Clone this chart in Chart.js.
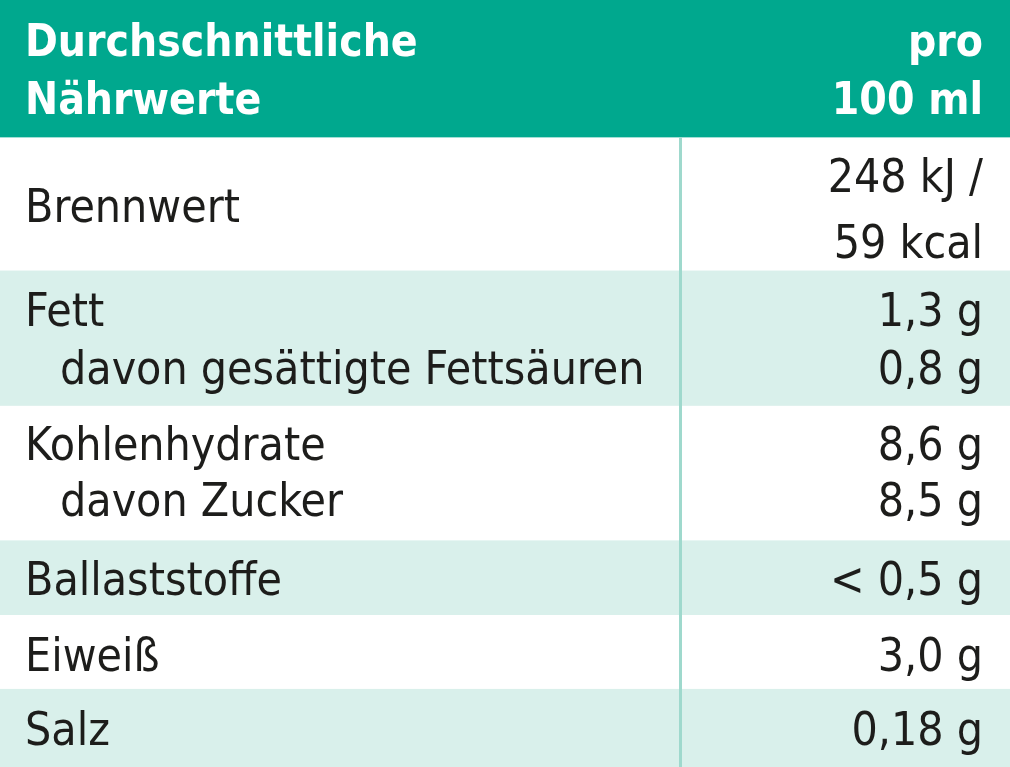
<!DOCTYPE html>
<html>
<head>
<meta charset="utf-8">
<script src="https://cdn.jsdelivr.net/npm/chart.js@4"></script>
<style>
  html, body { margin: 0; padding: 0; background: #fff; }
  #wrap { width: 1010px; height: 767px; }
</style>
</head>
<body>
<div id="wrap"><canvas id="c"></canvas></div>
<script>
// table rows, measured in "line" units (header = 0..2)
const headerLeft = ["Durchschnittliche", "Nährwerte"];
const headerRight = ["pro", "100 ml"];
const rowStarts = [2, 4, 6, 8, 9, 10];
const rowEnds = [4, 6, 8, 9, 10, 11];
const rowShaded = [false, true, false, true, false, true];
// text lines: [y (line units, baseline), left label, indent, right value]
const labelY = [3.18, 4.68, 5.5, 6.6, 7.4, 8.54, 9.62, 10.69];
const labels = ["Brennwert", "Fett", "davon gesättigte Fettsäuren", "Kohlenhydrate", "davon Zucker", "Ballaststoffe", "Eiweiß", "Salz"];
const labelIndent = [0, 0, 1, 0, 1, 0, 0, 0];
const valueY = [2.75, 3.7, 4.68, 5.5, 6.6, 7.4, 8.54, 9.62, 10.69];
const values = ["248 kJ /", "59 kcal", "1,3 g", "0,8 g", "8,6 g", "8,5 g", "< 0,5 g", "3,0 g", "0,18 g"];

const teal = "#00a88e";
const shade = "#d9f0eb";
const divider = "#9fd9cd";
const textCol = "#1d1d1b";
const font = "'Liberation Sans Narrow', 'DejaVu Sans Condensed', sans-serif";

const tablePlugin = {
  id: "table",
  beforeDraw(chart) {
    const { ctx, scales: { x, y } } = chart;
    const X0 = x.getPixelForValue(0), X1 = x.getPixelForValue(1010);
    ctx.save();
    ctx.fillStyle = "#fff";
    ctx.fillRect(X0, 0, X1 - X0, chart.height);
    // header
    ctx.fillStyle = teal;
    ctx.fillRect(X0, y.getPixelForValue(0), X1 - X0, y.getPixelForValue(1.97) - y.getPixelForValue(0));
    // rows
    rowStarts.forEach((s, i) => {
      if (!rowShaded[i]) return;
      const top = y.getPixelForValue(s - 0.03 * (i === 1 ? 1 : 0));
      ctx.fillStyle = shade;
      ctx.fillRect(X0, y.getPixelForValue(s === 4 ? 3.88 : s === 8 ? 7.75 : s === 10 ? 9.88 : s), X1 - X0,
        y.getPixelForValue(rowEnds[i] === 6 ? 5.82 : rowEnds[i] === 9 ? 8.82 : rowEnds[i]) - y.getPixelForValue(s === 4 ? 3.88 : s === 8 ? 7.75 : s === 10 ? 9.88 : s));
    });
    // divider
    ctx.fillStyle = divider;
    const dx = x.getPixelForValue(679);
    ctx.fillRect(dx, y.getPixelForValue(1.97), 3, y.getPixelForValue(11) - y.getPixelForValue(1.97));
    // header text
    ctx.fillStyle = "#fff";
    ctx.font = "bold 44px " + font;
    ctx.textBaseline = "alphabetic";
    [0.8, 1.63].forEach((ly, i) => {
      ctx.textAlign = "left";
      ctx.fillText(headerLeft[i], x.getPixelForValue(25), y.getPixelForValue(ly));
      ctx.textAlign = "right";
      ctx.fillText(headerRight[i], x.getPixelForValue(983), y.getPixelForValue(ly));
    });
    // body text
    ctx.fillStyle = textCol;
    ctx.font = "46px " + font;
    ctx.textAlign = "left";
    labels.forEach((t, i) => {
      ctx.fillText(t, x.getPixelForValue(labelIndent[i] ? 60 : 25), y.getPixelForValue(labelY[i]));
    });
    ctx.textAlign = "right";
    values.forEach((t, i) => {
      ctx.fillText(t, x.getPixelForValue(983), y.getPixelForValue(valueY[i]));
    });
    ctx.restore();
  }
};

new Chart(document.getElementById("c"), {
  type: "scatter",
  data: { datasets: [{ data: [], pointRadius: 0 }] },
  options: {
    responsive: true,
    maintainAspectRatio: false,
    animation: false,
    layout: { padding: 0 },
    plugins: { legend: { display: false }, tooltip: { enabled: false } },
    scales: {
      x: { type: "linear", min: 0, max: 1010, display: false },
      y: { type: "linear", min: 0, max: 11, reverse: true, display: false }
    }
  },
  plugins: [tablePlugin]
});
</script>
</body>
</html>
